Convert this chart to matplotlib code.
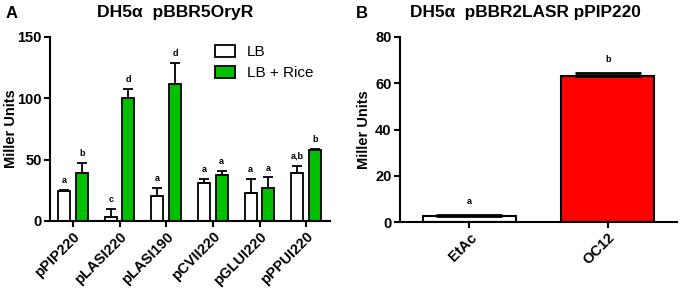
import matplotlib

matplotlib.use("Agg")
import matplotlib.pyplot as plt
import numpy as np

plt.rcParams["font.family"] = ["Liberation Sans", "DejaVu Sans"]

# Panel A
PROMOTERS = ["pPIP220", "pLASI220", "pLASI190", "pCVII220", "pGLUI220", "pPPUI220"]
LB = [24.5, 3, 20, 31, 23, 39]
LB_ERR = [0.5, 6.5, 7, 3, 11, 6]
RICE = [39.5, 100, 112, 37.5, 26.5, 58]
RICE_ERR = [8, 7.5, 17, 3, 9, 1]
LB_LET = ["a", "c", "a", "a", "a", "a,b"]
RICE_LET = ["b", "d", "d", "a", "a", "b"]

# Panel B
TREAT = ["EtAc", "OC12"]
B_VAL = [2.5, 63.2]
B_ERR = [0.4, 1.3]
B_LET = ["a", "b"]

GREEN, RED = "#00c000", "#ff0000"
W, H = 680, 290


def style(ax, labx):
    for s in ("top", "right"):
        ax.spines[s].set_visible(False)
    for s in ("left", "bottom"):
        ax.spines[s].set_linewidth(1.5)
    ax.tick_params(width=1.5, length=4, labelsize=10.5, pad=2)
    for lab in ax.get_yticklabels():
        lab.set_fontweight("bold")
    ax.set_ylabel("Miller Units", fontsize=10.5, fontweight="bold")
    ax.yaxis.set_label_coords(labx, 0.5)


fig = plt.figure(figsize=(W / 100, H / 100), dpi=100)
axA = fig.add_axes([50 / W, 1 - 221 / H, 280 / W, 184 / H])
axB = fig.add_axes([400 / W, 1 - 222 / H, 277 / W, 185 / H])

x = np.arange(len(PROMOTERS))
bw, off = 0.26, 0.19
ekw = dict(elinewidth=1.3, capthick=1.3)
axA.bar(x - off, LB, bw, color="white", edgecolor="black", lw=1.3,
        yerr=[np.zeros(len(LB)), LB_ERR], capsize=3.5, error_kw=ekw, label="LB")
axA.bar(x + off, RICE, bw, color=GREEN, edgecolor="black", lw=1.3,
        yerr=[np.zeros(len(RICE)), RICE_ERR], capsize=3.5, error_kw=ekw, label="LB + Rice")
for i in range(len(PROMOTERS)):
    axA.text(x[i] - off, LB[i] + LB_ERR[i] + 4, LB_LET[i], ha="center", va="bottom",
             fontsize=6.5, fontweight="bold")
    axA.text(x[i] + off, RICE[i] + RICE_ERR[i] + 4, RICE_LET[i], ha="center", va="bottom",
             fontsize=6.5, fontweight="bold")
axA.set_xlim(-0.49, 5.51)
axA.set_ylim(0, 150)
axA.set_yticks([0, 50, 100, 150])
axA.set_xticks(x)
axA.set_xticklabels(PROMOTERS, rotation=45, ha="right", rotation_mode="anchor",
                    fontweight="bold", fontsize=10)
style(axA, -0.115)
axA.legend(loc="upper left", bbox_to_anchor=(0.54, 1.03), frameon=False, fontsize=11,
           handlelength=1.3, handleheight=0.8, handletextpad=0.8, labelspacing=0.45)

xb = np.arange(len(TREAT))
axB.bar(xb, B_VAL, 0.67, color=["white", RED], edgecolor="black", lw=1.5,
        yerr=[np.zeros(2), B_ERR], capsize=24, error_kw=dict(elinewidth=1.5, capthick=2))
for i in range(len(TREAT)):
    axB.text(xb[i], B_VAL[i] + B_ERR[i] + 4, B_LET[i], ha="center", va="bottom",
             fontsize=6.5, fontweight="bold")
axB.set_xlim(-0.5, 1.5)
axB.set_ylim(0, 80)
axB.set_yticks([0, 20, 40, 60, 80])
axB.set_xticks(xb)
axB.set_xticklabels(TREAT, rotation=45, ha="right", rotation_mode="anchor",
                    fontweight="bold", fontsize=10)
style(axB, -0.105)

fig.text(175 / W, 1 - 13 / H, "DH5\u03b1  pBBR5OryR", fontsize=12.6, fontweight="bold",
         ha="center", va="center")
fig.text(525 / W, 1 - 13 / H, "DH5\u03b1  pBBR2LASR pPIP220", fontsize=12.4,
         fontweight="bold", ha="center", va="center")
fig.text(6 / W, 1 - 13 / H, "A", fontsize=12, fontweight="bold", va="center")
fig.text(356 / W, 1 - 13 / H, "B", fontsize=12, fontweight="bold", va="center")

fig.savefig("out.png", dpi=100)
